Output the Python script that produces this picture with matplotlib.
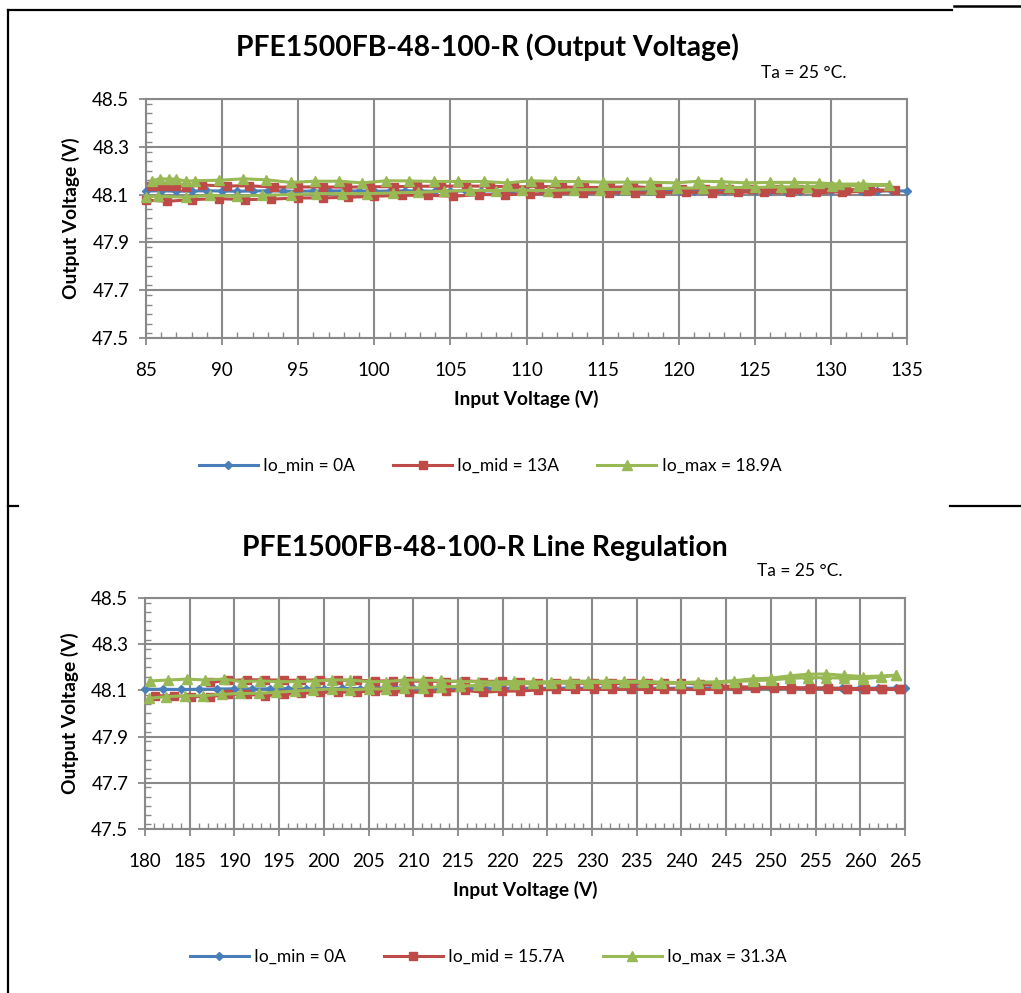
import matplotlib
matplotlib.use("Agg")
import matplotlib.pyplot as plt
from matplotlib.lines import Line2D
from matplotlib.ticker import MultipleLocator

plt.rcParams['font.family'] = ['Lato', 'DejaVu Sans']

# ---------------- Top chart data (85-135 V) ----------------
top_title = "PFE1500FB-48-100-R (Output Voltage)"
top_labels = ["Io_min = 0A", "Io_mid = 13A", "Io_max = 18.9A"]

top_min_x = [85, 86, 87, 88, 89, 90, 91, 92, 93, 94, 95, 96, 97, 98, 99, 100, 101, 102, 103, 104,
             105, 106, 107, 108, 109, 110, 111, 112, 113, 114, 115, 116, 117, 118, 119, 120, 121,
             122, 123, 124, 125, 126, 127, 128, 129, 130, 131, 132, 133, 134, 135]
top_min_y = [48.115, 48.116, 48.114, 48.115, 48.116, 48.115, 48.114, 48.115, 48.116, 48.115,
             48.114, 48.115, 48.115, 48.116, 48.115, 48.114, 48.115, 48.116, 48.115, 48.114,
             48.115, 48.115, 48.116, 48.115, 48.114, 48.115, 48.116, 48.115, 48.114, 48.115,
             48.115, 48.116, 48.115, 48.114, 48.115, 48.116, 48.115, 48.114, 48.115, 48.115,
             48.116, 48.115, 48.114, 48.115, 48.116, 48.115, 48.114, 48.115, 48.115, 48.116, 48.115]

top_mid_up_x = [85, 86.4, 88.0, 89.8, 91.5, 93.2, 95.0, 96.6, 98.3, 100.0, 101.8, 103.5, 105.2,
                106.9, 108.6, 110.2, 112.0, 113.7, 115.4, 117.1, 118.8, 120.5, 122.2, 123.9,
                125.6, 127.3, 129.0, 130.7, 132.4, 134.2]
top_mid_up_y = [48.077, 48.072, 48.079, 48.083, 48.079, 48.081, 48.086, 48.086, 48.089, 48.093,
                48.097, 48.097, 48.093, 48.100, 48.100, 48.102, 48.105, 48.107, 48.107, 48.107,
                48.108, 48.110, 48.108, 48.110, 48.111, 48.110, 48.112, 48.111, 48.113, 48.118]
top_mid_dn_x = [85.3, 85.9, 86.5, 87.0, 87.6, 88.7, 90.3, 91.8, 93.4, 95.0, 96.6, 98.2, 99.7,
                101.3, 102.8, 104.4, 106.0, 107.6, 109.2, 110.8, 112.3, 113.8, 115.5, 117.0,
                118.6, 120.2, 121.7, 123.3, 124.8, 126.4, 127.9, 129.5, 131.0, 132.6]
top_mid_dn_y = [48.135, 48.136, 48.137, 48.136, 48.133, 48.140, 48.136, 48.137, 48.131, 48.132,
                48.132, 48.131, 48.133, 48.133, 48.135, 48.135, 48.136, 48.135, 48.132, 48.134,
                48.132, 48.130, 48.130, 48.134, 48.126, 48.125, 48.124, 48.125, 48.124, 48.123,
                48.123, 48.122, 48.121, 48.120]

top_max_up_x = [85.0, 85.8, 87.6, 89.2, 91.0, 92.6, 94.5, 96.2, 97.9, 99.5, 101.2, 102.9, 104.6,
                106.3, 108.0, 109.7, 111.4, 113.1, 114.8, 116.5, 118.2, 119.9, 121.6, 123.3,
                125.0, 126.7, 128.4, 130.1, 131.8, 133.8]
top_max_up_y = [48.092, 48.093, 48.089, 48.097, 48.093, 48.097, 48.100, 48.104, 48.104, 48.104,
                48.107, 48.110, 48.114, 48.118, 48.117, 48.118, 48.117, 48.120, 48.121, 48.122,
                48.124, 48.127, 48.128, 48.130, 48.130, 48.132, 48.133, 48.135, 48.137, 48.140]
top_max_dn_x = [85.4, 85.9, 86.5, 87.0, 87.6, 88.2, 89.8, 91.4, 92.9, 94.5, 96.1, 97.7, 99.2,
                100.8, 102.3, 103.9, 105.5, 107.2, 108.7, 110.3, 111.9, 113.4, 115.0, 116.6,
                118.1, 119.8, 121.3, 122.8, 124.4, 126.0, 127.6, 129.2, 130.5, 132.1]
top_max_dn_y = [48.158, 48.166, 48.165, 48.165, 48.156, 48.158, 48.160, 48.166, 48.162, 48.151,
                48.156, 48.156, 48.149, 48.158, 48.157, 48.155, 48.155, 48.155, 48.149, 48.158,
                48.155, 48.155, 48.152, 48.152, 48.152, 48.149, 48.156, 48.154, 48.149, 48.151,
                48.151, 48.149, 48.144, 48.144]

# ---------------- Bottom chart data (180-265 V) ----------------
bot_title = "PFE1500FB-48-100-R Line Regulation"
bot_labels = ["Io_min = 0A", "Io_mid = 15.7A", "Io_max = 31.3A"]

bot_min_x = [180, 182, 184, 186, 188, 190, 192, 194, 196, 198, 200, 202, 204, 206, 208, 210, 212,
             214, 216, 218, 220, 222, 224, 226, 228, 230, 232, 234, 236, 238, 240, 242, 244, 246,
             248, 250, 252, 254, 256, 258, 260, 262, 264, 265]
bot_min_y = [48.105, 48.105, 48.104, 48.105, 48.106, 48.107, 48.106, 48.107, 48.108, 48.107,
             48.108, 48.109, 48.108, 48.109, 48.110, 48.109, 48.110, 48.109, 48.110, 48.110,
             48.109, 48.110, 48.109, 48.110, 48.110, 48.109, 48.110, 48.109, 48.110, 48.109,
             48.110, 48.110, 48.109, 48.110, 48.109, 48.110, 48.109, 48.109, 48.110, 48.109,
             48.109, 48.110, 48.109, 48.109]

bot_mid_up_x = [181.1, 183.2, 185.2, 187.3, 189.3, 191.4, 193.4, 195.5, 197.5, 199.6, 201.6,
                203.7, 205.7, 207.7, 209.5, 211.7, 213.7, 215.8, 217.8, 219.9, 221.9, 224.0,
                226.0, 228.1, 230.2, 232.2, 234.3, 236.3, 238.0, 240.0, 242.1, 244.1, 246.2,
                248.2, 250.3, 252.3, 254.4, 256.4, 258.5, 260.5, 262.4, 264.4]
bot_mid_up_y = [48.077, 48.077, 48.073, 48.073, 48.083, 48.083, 48.077, 48.083, 48.087, 48.092,
                48.092, 48.094, 48.097, 48.097, 48.092, 48.092, 48.097, 48.100, 48.092, 48.097,
                48.097, 48.102, 48.104, 48.104, 48.105, 48.104, 48.105, 48.104, 48.105, 48.107,
                48.102, 48.107, 48.107, 48.110, 48.110, 48.107, 48.107, 48.107, 48.105, 48.105,
                48.105, 48.105]
bot_mid_dn_x = [187.3, 189.3, 191.4, 193.4, 195.5, 197.5, 199.6, 201.6, 203.7, 205.7, 207.7,
                209.5, 211.7, 213.7, 215.8, 217.8, 219.9, 221.9, 224.0, 226.0, 228.1, 230.2,
                232.2, 234.3, 236.3, 238.0, 240.0, 242.1, 244.1, 246.2, 248.2, 250.3, 252.3,
                254.4, 256.4, 258.5, 260.5, 262.4, 264.4]
bot_mid_dn_y = [48.135, 48.143, 48.146, 48.146, 48.144, 48.144, 48.146, 48.144, 48.144, 48.141,
                48.141, 48.140, 48.140, 48.138, 48.141, 48.138, 48.141, 48.136, 48.134, 48.133,
                48.131, 48.131, 48.130, 48.130, 48.130, 48.131, 48.133, 48.126, 48.120, 48.116,
                48.114, 48.113, 48.112, 48.111, 48.110, 48.108, 48.107, 48.106, 48.105]

bot_max_up_x = [180.4, 182.4, 184.5, 186.5, 188.6, 190.6, 192.7, 194.7, 196.8, 198.8, 200.9,
                202.9, 205.0, 207.0, 209.0, 211.1, 213.1, 215.2, 217.2, 219.3, 221.3, 223.4,
                225.4, 227.5, 229.5, 231.6, 233.6, 235.7, 237.7, 239.8, 241.8, 243.9, 245.9,
                248.0, 250.0, 252.1, 254.1, 256.2, 258.2, 260.3, 262.3, 264.0]
bot_max_up_y = [48.066, 48.073, 48.077, 48.077, 48.083, 48.087, 48.087, 48.092, 48.097, 48.102,
                48.106, 48.102, 48.106, 48.106, 48.110, 48.112, 48.115, 48.118, 48.122, 48.125,
                48.128, 48.130, 48.132, 48.133, 48.134, 48.134, 48.135, 48.135, 48.133, 48.131,
                48.133, 48.133, 48.138, 48.142, 48.145, 48.152, 48.155, 48.155, 48.153, 48.150,
                48.158, 48.165]
bot_max_dn_x = [180.6, 182.6, 184.7, 186.7, 188.8, 190.8, 192.9, 194.9, 197.0, 199.0, 200.9,
                202.9, 205.0, 207.0, 209.0, 211.1, 213.1, 215.2, 217.2, 219.3, 221.3, 223.4,
                225.4, 227.5, 229.5, 231.6, 233.6, 235.7, 237.7, 239.8, 241.8, 243.9, 245.9,
                248.0, 250.0, 252.1, 254.1, 256.2, 258.2, 260.3, 262.3, 264.0]
bot_max_dn_y = [48.141, 48.145, 48.149, 48.145, 48.149, 48.138, 48.141, 48.138, 48.138, 48.141,
                48.145, 48.145, 48.138, 48.138, 48.145, 48.144, 48.143, 48.138, 48.138, 48.136,
                48.139, 48.136, 48.138, 48.140, 48.140, 48.140, 48.139, 48.139, 48.136, 48.134,
                48.136, 48.137, 48.142, 48.150, 48.153, 48.163, 48.170, 48.171, 48.165, 48.160,
                48.162, 48.166]

y_ticks = [47.5, 47.7, 47.9, 48.1, 48.3, 48.5]

BLUE = '#4A7EBB'
RED = '#BE4B48'
GREEN = '#98B954'
GRID = '#898989'

W, H = 1021, 993
fig = plt.figure(figsize=(W / 100, H / 100), dpi=100)
fig.patch.set_facecolor('white')


def px_box(l, t, r, b):
    return [l / W, 1 - b / H, (r - l) / W, (b - t) / H]


def style_axes(ax, xmin, xmax):
    ax.set_xlim(xmin, xmax)
    ax.set_ylim(47.5, 48.5)
    ax.set_yticks(y_ticks)
    ax.set_yticklabels([f"{v:.1f}" for v in y_ticks])
    ax.xaxis.set_major_locator(MultipleLocator(5))
    ax.xaxis.set_minor_locator(MultipleLocator(1))
    ax.yaxis.set_minor_locator(MultipleLocator(0.04))
    ax.grid(True, which='major', color=GRID, linewidth=1.5)
    ax.set_axisbelow(True)
    for s in ax.spines.values():
        s.set_color(GRID)
        s.set_linewidth(1.5)
    ax.tick_params(which='major', direction='out', length=5, width=1.3, color=GRID,
                   labelsize=13.5)
    ax.tick_params(axis='y', which='major', pad=7)
    ax.tick_params(axis='x', which='major', pad=12)
    ax.tick_params(which='minor', direction='in', length=4, width=1.0, color=GRID)
    ax.set_xlabel("Input Voltage (V)", fontsize=13.8, fontweight='bold', labelpad=8)
    ax.set_ylabel("Output Voltage (V)", fontsize=13.8, fontweight='bold', labelpad=9)


def draw_series(ax, x_up, y_up, x_dn, y_dn, color, marker, ms, label):
    xs = list(x_up) + list(reversed(x_dn))
    ys = list(y_up) + list(reversed(y_dn))
    ax.plot(xs, ys, color=color, linewidth=2.2, marker=marker, markersize=ms,
            markeredgecolor=color, label=label, clip_on=False, zorder=3)


legend_kw = dict(loc='center', ncol=3, frameon=False, fontsize=12.5, handlelength=3.4,
                 columnspacing=2.2, handletextpad=0.3, numpoints=1)

# ---- top chart ----
ax1 = fig.add_axes(px_box(146, 99, 907, 338))
style_axes(ax1, 85, 135)
ax1.plot(top_min_x, top_min_y, color=BLUE, linewidth=2.2, marker='D', markersize=4.5,
         label=top_labels[0], clip_on=False, zorder=3)
draw_series(ax1, top_mid_up_x, top_mid_up_y, top_mid_dn_x, top_mid_dn_y, RED, 's', 6, top_labels[1])
draw_series(ax1, top_max_up_x, top_max_up_y, top_max_dn_x, top_max_dn_y, GREEN, '^', 7, top_labels[2])
fig.text(487 / W, 1 - 47 / H, top_title, fontsize=20.4, fontweight='bold', ha='center', va='center')
fig.text(804 / W, 1 - 73 / H, "Ta = 25 °C.", fontsize=12.5, ha='center', va='center')
fig.legend(handles=ax1.get_lines(), labels=top_labels, bbox_to_anchor=(490 / W, 1 - 466 / H), **legend_kw)

# ---- bottom chart ----
ax2 = fig.add_axes(px_box(145, 598, 905, 829))
style_axes(ax2, 180, 265)
ax2.plot(bot_min_x, bot_min_y, color=BLUE, linewidth=2.2, marker='D', markersize=4.5,
         label=bot_labels[0], clip_on=False, zorder=3)
draw_series(ax2, bot_mid_up_x, bot_mid_up_y, bot_mid_dn_x, bot_mid_dn_y, RED, 's', 6, bot_labels[1])
draw_series(ax2, bot_max_up_x, bot_max_up_y, bot_max_dn_x, bot_max_dn_y, GREEN, '^', 7, bot_labels[2])
fig.text(485 / W, 1 - 548 / H, bot_title, fontsize=20.4, fontweight='bold', ha='center', va='center')
fig.text(800 / W, 1 - 571 / H, "Ta = 25 °C.", fontsize=12.5, ha='center', va='center')
fig.legend(handles=ax2.get_lines(), labels=bot_labels, bbox_to_anchor=(488 / W, 1 - 957 / H), **legend_kw)

# ---- document table borders ----
def hline(x0, x1, y, lw=1.6):
    fig.add_artist(Line2D([x0 / W, x1 / W], [1 - y / H, 1 - y / H], color='black', linewidth=lw))


def vline(x, y0, y1, lw=1.6):
    fig.add_artist(Line2D([x / W, x / W], [1 - y0 / H, 1 - y1 / H], color='black', linewidth=lw))


vline(8, 10, 993)
hline(8, 952, 10)
hline(954, 1021, 6, lw=1.8)
hline(8, 18, 506)
hline(950, 1021, 506)

fig.savefig("out.png", dpi=100)
